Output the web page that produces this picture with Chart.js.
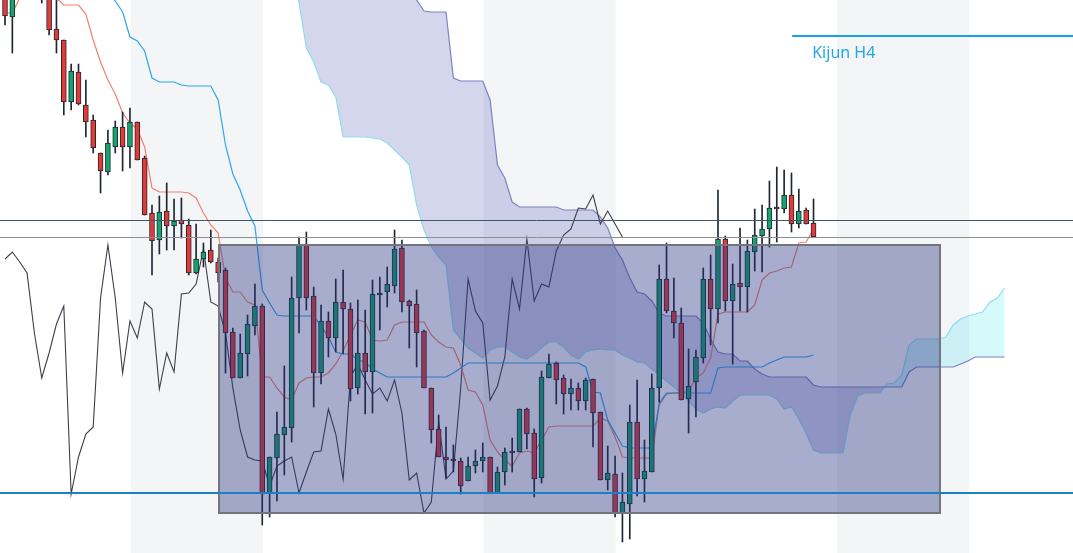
<!DOCTYPE html>
<html>
<head>
<meta charset="utf-8">
<script src="https://cdn.jsdelivr.net/npm/chart.js@4.4.1/dist/chart.umd.min.js"></script>
<style>
  html, body { margin: 0; padding: 0; background: #fff; overflow: hidden; }
  #wrap { width: 1073px; height: 553px; }
</style>
</head>
<body>
<div id="wrap"><canvas id="chart"></canvas></div>
<script>
// H1 candles, one per bar index
const opens = [1.1008,1.0983,1.1008,1.1035,1.1020,1.1012,1.1005,1.0971,1.0960,1.0898,
  1.0928,1.0895,1.0880,1.0847,1.0828,1.0853,1.0873,1.0853,1.0878,1.0842,
  1.0787,1.0760,1.0789,1.0774,1.0780,1.0775,1.0727,1.0741,1.0750,1.0738,
  1.0730,1.0668,1.0622,1.0646,1.0674,1.0694,1.0507,1.0542,1.0565,1.0572,
  1.0702,1.0755,1.0704,1.0627,1.0679,1.0662,1.0698,1.0691,1.0612,1.0647,
  1.0628,1.0705,1.0708,1.0714,1.0752,1.0699,1.0696,1.0669,1.0612,1.0571,
  1.0543,1.0541,1.0539,1.0519,1.0534,1.0539,1.0543,1.0507,1.0528,1.0547,
  1.0548,1.0591,1.0567,1.0522,1.0622,1.0637,1.0622,1.0606,1.0612,1.0599,
  1.0621,1.0588,1.0520,1.0526,1.0487,1.0496,1.0578,1.0521,1.0528,1.0612,
  1.0721,1.0689,1.0677,1.0601,1.0618,1.0642,1.0721,1.0691,1.0761,1.0699,
  1.0717,1.0713,1.0748,1.0764,1.0771,1.0793,1.0791,1.0805,1.0776,1.0790,
  1.0777];
const highs = [1.1020,1.1015,1.1040,1.1050,1.1028,1.1025,1.1010,1.1005,1.0960,1.0936,
  1.0936,1.0920,1.0885,1.0847,1.0870,1.0879,1.0888,1.0892,1.0878,1.0844,
  1.0795,1.0804,1.0817,1.0801,1.0802,1.0781,1.0776,1.0757,1.0770,1.0742,
  1.0732,1.0672,1.0666,1.0685,1.0716,1.0696,1.0543,1.0588,1.0634,1.0723,
  1.0763,1.0768,1.0713,1.0695,1.0688,1.0721,1.0730,1.0697,1.0700,1.0690,
  1.0720,1.0723,1.0733,1.0770,1.0760,1.0700,1.0710,1.0670,1.0612,1.0585,
  1.0573,1.0555,1.0542,1.0543,1.0550,1.0557,1.0543,1.0533,1.0552,1.0562,
  1.0591,1.0592,1.0571,1.0629,1.0646,1.0638,1.0625,1.0621,1.0617,1.0622,
  1.0621,1.0588,1.0554,1.0544,1.0527,1.0595,1.0620,1.0560,1.0626,1.0735,
  1.0757,1.0722,1.0692,1.0651,1.0650,1.0732,1.0745,1.0810,1.0764,1.0736,
  1.0772,1.0760,1.0791,1.0795,1.0819,1.0833,1.0830,1.0827,1.0811,1.0792,
  1.0801];
const lows = [1.0975,1.0947,1.1004,1.1015,1.1003,1.0997,1.0965,1.0947,1.0885,1.0890,
  1.0895,1.0863,1.0847,1.0807,1.0825,1.0847,1.0829,1.0832,1.0840,1.0785,
  1.0725,1.0746,1.0750,1.0750,1.0762,1.0725,1.0726,1.0733,1.0737,1.0718,
  1.0627,1.0622,1.0622,1.0624,1.0665,1.0475,1.0483,1.0499,1.0525,1.0558,
  1.0667,1.0690,1.0593,1.0616,1.0643,1.0648,1.0646,1.0599,1.0606,1.0586,
  1.0587,1.0670,1.0693,1.0707,1.0688,1.0652,1.0633,1.0612,1.0557,1.0543,
  1.0522,1.0528,1.0506,1.0519,1.0527,1.0528,1.0507,1.0507,1.0515,1.0528,
  1.0548,1.0551,1.0503,1.0517,1.0622,1.0596,1.0586,1.0590,1.0590,1.0590,
  1.0553,1.0520,1.0510,1.0483,1.0458,1.0461,1.0504,1.0498,1.0528,1.0598,
  1.0687,1.0662,1.0600,1.0567,1.0583,1.0637,1.0655,1.0677,1.0689,1.0636,
  1.0689,1.0688,1.0729,1.0728,1.0753,1.0758,1.0787,1.0768,1.0772,1.0776,
  1.0763];
const closes = [1.0984,1.1006,1.1035,1.1020,1.1010,1.1005,1.0970,1.0960,1.0898,1.0929,
  1.0896,1.0878,1.0852,1.0829,1.0857,1.0873,1.0853,1.0878,1.0840,1.0785,
  1.0759,1.0788,1.0774,1.0779,1.0776,1.0727,1.0741,1.0748,1.0738,1.0727,
  1.0667,1.0622,1.0647,1.0676,1.0694,1.0506,1.0543,1.0566,1.0573,1.0702,
  1.0755,1.0702,1.0627,1.0679,1.0662,1.0698,1.0691,1.0611,1.0647,1.0628,
  1.0706,1.0707,1.0716,1.0751,1.0698,1.0694,1.0667,1.0612,1.0570,1.0543,
  1.0540,1.0539,1.0514,1.0534,1.0539,1.0543,1.0507,1.0528,1.0548,1.0549,
  1.0591,1.0566,1.0521,1.0623,1.0636,1.0620,1.0606,1.0612,1.0599,1.0620,
  1.0587,1.0520,1.0527,1.0487,1.0498,1.0578,1.0521,1.0529,1.0612,1.0721,
  1.0689,1.0677,1.0600,1.0614,1.0643,1.0721,1.0691,1.0761,1.0699,1.0716,
  1.0713,1.0749,1.0765,1.0771,1.0792,1.0791,1.0805,1.0776,1.0789,1.0776,
  1.0763];

// ichimoku lines
const tenkan = [1.0987,1.0987,1.1002,1.1010,1.1010,1.1005,1.1003,1.1002,1.0995,1.0995,
  1.0995,1.0986,1.0960,1.0938,1.0920,1.0906,1.0887,1.0877,1.0871,1.0853,
  1.0812,1.0808,1.0808,1.0808,1.0808,1.0807,1.0802,1.0787,1.0775,1.0767,
  1.0722,1.0708,1.0708,1.0698,1.0695,1.0623,1.0623,1.0612,1.0603,1.0600,
  1.0617,1.0622,1.0623,1.0623,1.0627,1.0636,1.0649,1.0665,1.0680,1.0678,
  1.0660,1.0659,1.0660,1.0675,1.0678,1.0678,1.0678,1.0678,1.0665,1.0658,
  1.0653,1.0652,1.0635,1.0610,1.0608,1.0595,1.0560,1.0548,1.0540,1.0534,
  1.0547,1.0549,1.0547,1.0560,1.0573,1.0574,1.0574,1.0574,1.0574,1.0574,
  1.0574,1.0582,1.0579,1.0563,1.0543,1.0542,1.0542,1.0542,1.0542,1.0595,
  1.0606,1.0607,1.0607,1.0609,1.0622,1.0627,1.0642,1.0686,1.0688,1.0688,
  1.0688,1.0688,1.0695,1.0720,1.0727,1.0729,1.0732,1.0733,1.0757,1.0758,
  1.0771];
const kijun = [1.1080,1.1078,1.1075,1.1072,1.1070,1.1066,1.1060,1.1055,1.1050,1.1045,
  1.1038,1.1030,1.1022,1.1015,1.1008,1.0999,1.0988,1.0963,1.0959,1.0949,
  1.0922,1.0918,1.0918,1.0918,1.0915,1.0914,1.0914,1.0914,1.0914,1.0900,
  1.0855,1.0826,1.0810,1.0789,1.0774,1.0710,1.0697,1.0685,1.0684,1.0684,
  1.0684,1.0684,1.0684,1.0674,1.0663,1.0648,1.0646,1.0646,1.0640,1.0638,
  1.0631,1.0627,1.0623,1.0623,1.0623,1.0623,1.0623,1.0623,1.0623,1.0623,
  1.0623,1.0627,1.0632,1.0637,1.0637,1.0637,1.0637,1.0637,1.0637,1.0637,
  1.0637,1.0637,1.0637,1.0637,1.0637,1.0637,1.0637,1.0637,1.0637,1.0633,
  1.0608,1.0607,1.0580,1.0567,1.0554,1.0552,1.0552,1.0552,1.0552,1.0597,
  1.0607,1.0607,1.0607,1.0607,1.0607,1.0607,1.0607,1.0632,1.0633,1.0633,
  1.0633,1.0633,1.0633,1.0633,1.0637,1.0640,1.0643,1.0643,1.0643,1.0643,
  1.0645];

// cloud, drawn 26 bars ahead; first value sits at bar cloudFrom
const cloudFrom = 36;
const senkouA = [1.1110,1.1080,1.1055,1.1025,1.0998,1.0952,1.0938,1.0918,1.0915,1.0903,
  1.0863,1.0863,1.0863,1.0863,1.0862,1.0861,1.0857,1.0850,1.0843,1.0835,
  1.0795,1.0770,1.0753,1.0743,1.0735,1.0670,1.0661,1.0652,1.0647,1.0642,
  1.0650,1.0653,1.0653,1.0648,1.0643,1.0641,1.0646,1.0652,1.0658,1.0658,
  1.0653,1.0645,1.0641,1.0648,1.0650,1.0651,1.0650,1.0650,1.0645,1.0642,
  1.0638,1.0637,1.0631,1.0625,1.0619,1.0613,1.0607,1.0599,1.0591,1.0587,
  1.0591,1.0593,1.0592,1.0599,1.0605,1.0605,1.0605,1.0605,1.0605,1.0601,
  1.0591,1.0593,1.0581,1.0567,1.0550,1.0547,1.0547,1.0547,1.0547,1.0585,
  1.0604,1.0607,1.0607,1.0607,1.0616,1.0617,1.0625,1.0655,1.0661,1.0661,
  1.0661,1.0661,1.0663,1.0675,1.0681,1.0684,1.0686,1.0688,1.0698,1.0702,1.0712];
const senkouB = [1.1180,1.1175,1.1170,1.1165,1.1160,1.1150,1.1140,1.1130,1.1120,1.1110,
  1.1100,1.1095,1.1090,1.1085,1.1080,1.1070,1.1060,1.1055,1.1050,1.1040,
  1.1000,1.0989,1.0988,1.0988,1.0988,1.0922,1.0919,1.0919,1.0919,1.0919,
  1.0900,1.0835,1.0822,1.0798,1.0793,1.0793,1.0793,1.0793,1.0793,1.0793,
  1.0790,1.0790,1.0790,1.0790,1.0790,1.0783,1.0772,1.0752,1.0740,1.0722,
  1.0708,1.0706,1.0699,1.0687,1.0684,1.0684,1.0684,1.0684,1.0684,1.0677,
  1.0661,1.0648,1.0646,1.0646,1.0639,1.0639,1.0631,1.0626,1.0623,1.0623,
  1.0623,1.0623,1.0623,1.0623,1.0615,1.0613,1.0613,1.0613,1.0613,1.0613,
  1.0613,1.0613,1.0613,1.0613,1.0613,1.0613,1.0613,1.0628,1.0633,1.0633,
  1.0633,1.0633,1.0633,1.0633,1.0636,1.0639,1.0643,1.0643,1.0643,1.0643,1.0643];
const chikouShift = 26;

// drawings on the chart
const levelPrices = [1.0780, 1.0763, 1.0507];
const kijunH4Price = 1.0964;
const kijunH4From = 107.1;
const kijunH4Label = 'Kijun H4';
const zoneBars = [29.12, 127.2];
const zonePrices = [1.0755, 1.0487];
const sessionBands = [[17.1, 35.1], [65.1, 83.1], [113.2, 131.2]];

const UP = '#12a56c', DOWN = '#e53935', EDGE = '#1f2735';
const bars = opens.map((_, i) => i);
const series = (vals, from) => vals.map((v, k) => ({ x: from + k, y: v }));

const backdrop = {
  id: 'backdrop',
  beforeDatasetsDraw(chart) {
    const { ctx, chartArea: a, scales: { x } } = chart;
    ctx.save();
    ctx.fillStyle = '#f4f5f7';
    sessionBands.forEach(([s, e]) => {
      const x0 = x.getPixelForValue(s), x1 = x.getPixelForValue(e);
      ctx.fillRect(x0, a.top, x1 - x0, a.bottom - a.top);
    });
    ctx.restore();
  }
};

const levelStyles = [
  { color: '#3b5868', width: 1 },
  { color: '#8c9094', width: 1 },
  { color: '#1b80c6', width: 2 }
];

const drawings = {
  id: 'drawings',
  afterDatasetsDraw(chart) {
    const { ctx, chartArea: a, scales: { x, y } } = chart;
    ctx.save();
    // zone rectangle
    const zx0 = x.getPixelForValue(zoneBars[0]), zx1 = x.getPixelForValue(zoneBars[1]);
    const zy0 = y.getPixelForValue(zonePrices[0]), zy1 = y.getPixelForValue(zonePrices[1]);
    ctx.fillStyle = 'rgba(40, 50, 130, 0.4)';
    ctx.fillRect(zx0, zy0, zx1 - zx0, zy1 - zy0);
    ctx.strokeStyle = '#72757c';
    ctx.lineWidth = 2;
    ctx.strokeRect(zx0, zy0, zx1 - zx0, zy1 - zy0);

    // horizontal levels
    levelPrices.forEach((p, k) => {
      const st = levelStyles[k];
      const py = Math.round(y.getPixelForValue(p)) + (st.width % 2 ? 0.5 : 0);
      ctx.strokeStyle = st.color;
      ctx.lineWidth = st.width;
      ctx.beginPath();
      ctx.moveTo(a.left, py);
      ctx.lineTo(a.right, py);
      ctx.stroke();
    });

    // Kijun H4 marker and label
    const ky = Math.round(y.getPixelForValue(kijunH4Price));
    const kx = x.getPixelForValue(kijunH4From);
    ctx.strokeStyle = '#14a2ea';
    ctx.lineWidth = 2;
    ctx.beginPath();
    ctx.moveTo(kx, ky);
    ctx.lineTo(a.right, ky);
    ctx.stroke();
    ctx.fillStyle = '#22a6ea';
    ctx.font = '16px "Noto Sans", sans-serif';
    ctx.textBaseline = 'middle';
    ctx.fillText(kijunH4Label, kx + 20, ky + 17);
    ctx.restore();
  }
};

new Chart(document.getElementById('chart'), {
  type: 'bar',
  data: {
    datasets: [
      {
        label: 'Senkou A', type: 'line',
        data: series(senkouA, cloudFrom),
        borderColor: '#8fdcee', borderWidth: 1.2, pointRadius: 0, tension: 0,
        fill: { target: '+1', above: 'rgba(0, 220, 235, 0.16)', below: 'rgba(95, 105, 190, 0.27)' },
        order: 10
      },
      {
        label: 'Senkou B', type: 'line',
        data: series(senkouB, cloudFrom),
        borderColor: '#7b83c6', borderWidth: 1.2, pointRadius: 0, tension: 0,
        fill: false, order: 9
      },
      {
        label: 'Chikou', type: 'line',
        data: bars.slice(chikouShift).map(i => ({ x: i - chikouShift, y: closes[i] })),
        borderColor: '#3b3f48', borderWidth: 1.1, pointRadius: 0, tension: 0,
        fill: false, order: 6
      },
      {
        label: 'Tenkan', type: 'line',
        data: series(tenkan, 0),
        borderColor: '#f0826f', borderWidth: 1.2, pointRadius: 0, tension: 0,
        fill: false, order: 5
      },
      {
        label: 'Kijun', type: 'line',
        data: series(kijun, 0),
        borderColor: '#2ba7ef', borderWidth: 1.2, pointRadius: 0, tension: 0,
        fill: false, order: 4
      },
      {
        label: 'Wicks',
        data: bars.map(i => ({ x: i, y: [lows[i], highs[i]] })),
        backgroundColor: EDGE, barThickness: 1, grouped: false, order: 2
      },
      {
        label: 'Bodies',
        data: bars.map(i => ({ x: i, y: [opens[i], closes[i]] })),
        backgroundColor: bars.map(i => closes[i] >= opens[i] ? UP : DOWN),
        borderColor: EDGE, borderWidth: 1, borderSkipped: false,
        barThickness: 5, grouped: false, order: 1
      }
    ]
  },
  options: {
    responsive: true,
    maintainAspectRatio: false,
    animation: false,
    layout: { padding: 0 },
    plugins: { legend: { display: false }, tooltip: { enabled: false } },
    scales: {
      x: { type: 'linear', min: -0.68, max: 145.3, offset: false, display: false },
      y: { type: 'linear', min: 1.0447, max: 1.1000, display: false }
    }
  },
  plugins: [backdrop, drawings]
});
</script>
</body>
</html>
